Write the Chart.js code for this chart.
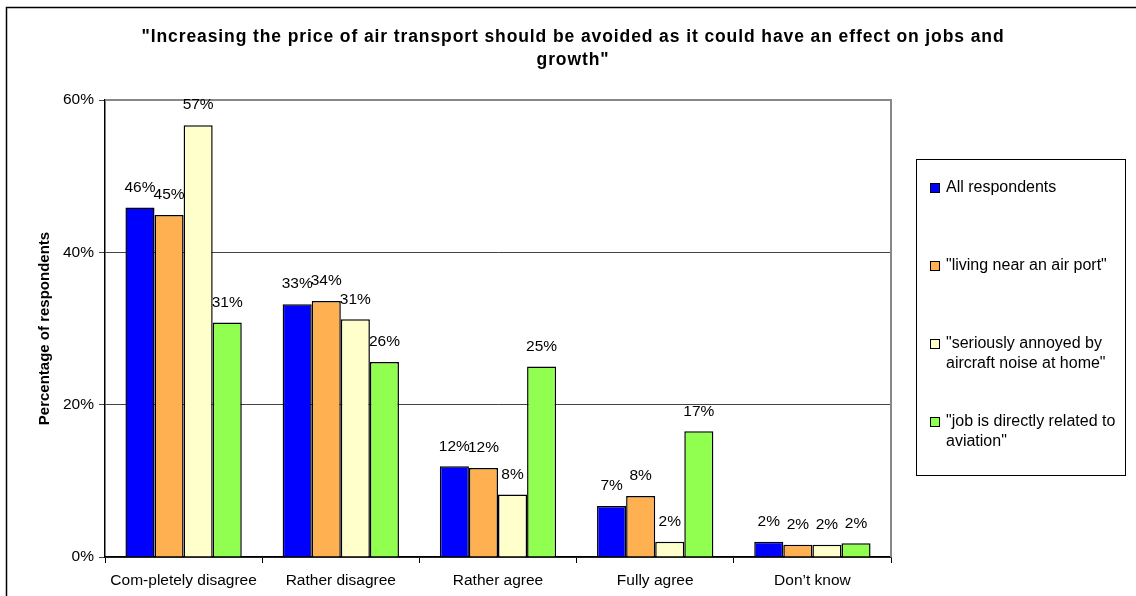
<!DOCTYPE html>
<html>
<head>
<meta charset="utf-8">
<script src="https://cdn.jsdelivr.net/npm/chart.js@4"></script>
<style>
  html, body { margin: 0; padding: 0; background: #fff; }
  #wrap { width: 1136px; height: 596px; }
</style>
</head>
<body>
<div id="wrap"><canvas id="chart1" width="1136" height="596"></canvas></div>
<script>
const categories = ['Com-pletely disagree', 'Rather disagree', 'Rather agree', 'Fully agree', 'Don\u2019t know'];
const seriesNames = ['All respondents', '"living near an air port"', '"seriously annoyed by aircraft noise at home"', '"job is directly related to aviation"'];
const allRespondents = [45.9, 33.2, 11.9, 6.7, 2.0];
const nearAirport = [44.9, 33.6, 11.7, 8.0, 1.6];
const annoyedByNoise = [56.7, 31.2, 8.2, 2.0, 1.6];
const aviationJob = [30.8, 25.6, 25.0, 16.5, 1.8];
const yTicks = [0, 20, 40, 60];
const colors = ['#0000FF', '#FFB050', '#FFFFCC', '#90FF50'];
const titleLines = ['"Increasing the price of air transport should be avoided as it could have an effect on jobs and', 'growth"'];

const FONT = 'Liberation Sans, Arial, sans-serif';

// value labels above each bar
const valueLabels = {
  id: 'valueLabels',
  afterDatasetsDraw(chart) {
    const c = chart.ctx;
    c.save();
    c.font = '15.5px ' + FONT;
    c.fillStyle = '#000';
    c.textAlign = 'center';
    c.textBaseline = 'middle';
    chart.data.datasets.forEach((ds, i) => {
      chart.getDatasetMeta(i).data.forEach((bar, j) => {
        c.fillText(Math.round(ds.data[j]) + '%', bar.x, bar.y - 20);
      });
    });
    c.restore();
  }
};

// frame lines, title, plot border and boxed legend
const frame = {
  id: 'frame',
  beforeDatasetsDraw(chart) {
    const a = chart.chartArea, c = chart.ctx;
    c.save();
    c.strokeStyle = '#888';
    c.lineWidth = 2;
    c.beginPath();
    c.moveTo(a.left, a.top);
    c.lineTo(a.right, a.top);
    c.lineTo(a.right, a.bottom);
    c.stroke();
    c.restore();
  },
  afterDraw(chart) {
    const c = chart.ctx;
    c.save();
    c.strokeStyle = '#000';
    c.lineWidth = 1.5;
    c.beginPath();
    c.moveTo(1136, 7.5);
    c.lineTo(6.5, 7.5);
    c.lineTo(6.5, 596);
    c.stroke();

    // title
    c.font = 'bold 17.5px ' + FONT;
    c.letterSpacing = '0.9px';
    c.fillStyle = '#000';
    c.textAlign = 'center';
    c.textBaseline = 'middle';
    titleLines.forEach((t, k) => c.fillText(t, 573, 37 + k * 23));
    c.letterSpacing = '0px';

    // legend
    const bx = 916, by = 159, bw = 209, bh = 316;
    c.lineWidth = 1;
    c.strokeStyle = '#000';
    c.strokeRect(bx + 0.5, by + 0.5, bw, bh);
    c.font = '16px ' + FONT;
    c.textBaseline = 'middle';
    c.textAlign = 'left';
    const maxW = 177;
    chart.data.datasets.forEach((ds, i) => {
      const y0 = 188 + i * 78;
      c.fillStyle = ds.backgroundColor;
      c.fillRect(930, y0 - 5, 10, 10);
      c.strokeStyle = '#000';
      c.strokeRect(930.5, y0 - 4.5, 9, 9);
      const words = ds.label.split(' ');
      const lines = [];
      let cur = '';
      words.forEach(w => {
        const t = cur ? cur + ' ' + w : w;
        if (c.measureText(t).width > maxW && cur) { lines.push(cur); cur = w; } else { cur = t; }
      });
      lines.push(cur);
      c.fillStyle = '#000';
      lines.forEach((ln, k) => c.fillText(ln, 946, y0 + k * 20));
    });
    c.restore();
  }
};

const datasets = [allRespondents, nearAirport, annoyedByNoise, aviationJob].map((d, i) => ({
  label: seriesNames[i],
  data: d,
  backgroundColor: colors[i],
  borderColor: '#000',
  borderWidth: 1.5,
  borderSkipped: 'bottom',
  categoryPercentage: 0.74,
  barPercentage: 1.0
}));

const ctx = document.getElementById('chart1');

new Chart(ctx, {
  type: 'bar',
  data: { labels: categories, datasets: datasets },
  plugins: [frame, valueLabels],
  options: {
    responsive: false,
    animation: false,
    layout: { padding: { left: 30, right: 245, top: 100, bottom: 0 } },
    plugins: {
      legend: { display: false },
      tooltip: { enabled: false },
      title: { display: false }
    },
    scales: {
      x: {
        offset: true,
        grid: { display: true, offset: true, drawOnChartArea: false, drawTicks: true, tickLength: 6, color: '#000' },
        border: { color: '#000', width: 1.5 },
        ticks: { color: '#000', font: { family: FONT, size: 15.5 }, padding: 8, maxRotation: 0 },
        afterFit: s => { s.height = 39; }
      },
      y: {
        min: 0,
        max: 60,
        afterBuildTicks: s => { s.ticks = yTicks.map(v => ({ value: v })); },
        grid: { color: '#444', lineWidth: 1, tickLength: 6 },
        border: { color: '#000', width: 1.5 },
        ticks: { color: '#000', font: { family: FONT, size: 15.5 }, padding: 5, callback: v => v + '%' },
        title: { display: true, text: 'Percentage of respondents', color: '#000', font: { family: FONT, size: 15, weight: 'bold' }, padding: { top: 6, bottom: 0 } },
        afterFit: s => { s.width = 75; }
      }
    }
  }
});
</script>
</body>
</html>
